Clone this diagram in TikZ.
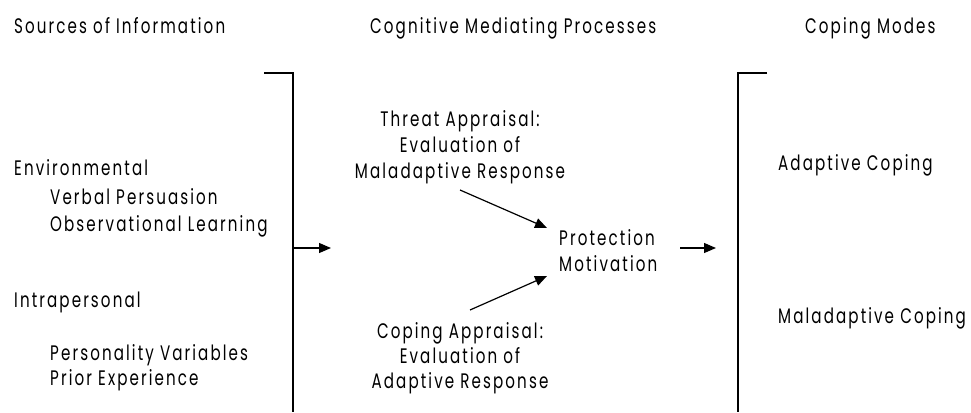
\documentclass[tikz,border=0pt]{standalone}
\usepackage{fontspec}
\setmainfont{Poppins}[FakeStretch=0.72,LetterSpace=10]
\usetikzlibrary{arrows.meta}
\begin{document}
\begin{tikzpicture}[x=1pt,y=-1pt,
  lbl/.style={inner sep=0pt, anchor=base west, font=\fontsize{21}{25}\selectfont},
  clbl/.style={inner sep=0pt, anchor=base, font=\fontsize{21}{25}\selectfont},
  line/.style={line width=1.2pt},
  arr/.style={line width=1.2pt, -{Triangle[length=12pt,width=10pt]}}]
\useasboundingbox (0,0) rectangle (971,412);

% column headings
\node[lbl] (h1) at (14,34) {Sources of Information};
\node[lbl] (h2) at (370,34) {Cognitive Mediating Processes};
\node[lbl] (h3) at (805,34) {Coping Modes};

% sources of information
\node[lbl] (env) at (14,175) {Environmental};
\node[lbl] (vp) at (50,204) {Verbal Persuasion};
\node[lbl] (ol) at (50,231) {Observational Learning};
\node[lbl] (intra) at (14,307) {Intrapersonal};
\node[lbl] (pv) at (50,360) {Personality Variables};
\node[lbl] (pe) at (50,385) {Prior Experience};

% left bracket and its arrow
\coordinate (lt0) at (264,73);
\coordinate (lt1) at (293,73);
\coordinate (lb) at (293,412);
\coordinate (la0) at (293,248);
\coordinate (la1) at (331,248);
\draw[line] (lt0) -- (lt1) -- (lb);
\draw[arr] (la0) -- (la1);

% threat appraisal
\node[clbl] (ta1) at (460,126) {Threat Appraisal:};
\node[clbl] (ta2) at (460,152) {Evaluation of};
\node[clbl] (ta3) at (460,178) {Maladaptive Response};

% protection motivation
\node[lbl] (pm1) at (559,245) {Protection};
\node[lbl] (pm2) at (559,271) {Motivation};

% coping appraisal
\node[clbl] (ca1) at (460,338) {Coping Appraisal:};
\node[clbl] (ca2) at (460,363) {Evaluation of};
\node[clbl] (ca3) at (460,388) {Adaptive Response};

\coordinate (tas) at (460,190);
\coordinate (tae) at (547,228);
\coordinate (cas) at (470,310);
\coordinate (cae) at (547,276);
\draw[arr] (tas) -- (tae);
\draw[arr] (cas) -- (cae);

% arrow to coping modes
\coordinate (pa0) at (680,248);
\coordinate (pa1) at (716,248);
\draw[arr] (pa0) -- (pa1);

% right bracket
\coordinate (rt0) at (767,73);
\coordinate (rt1) at (738,73);
\coordinate (rb) at (738,412);
\draw[line] (rt0) -- (rt1) -- (rb);

% coping modes
\node[lbl] (ac) at (778,170) {Adaptive Coping};
\node[lbl] (mc) at (778,323) {Maladaptive Coping};
\end{tikzpicture}
\end{document}
